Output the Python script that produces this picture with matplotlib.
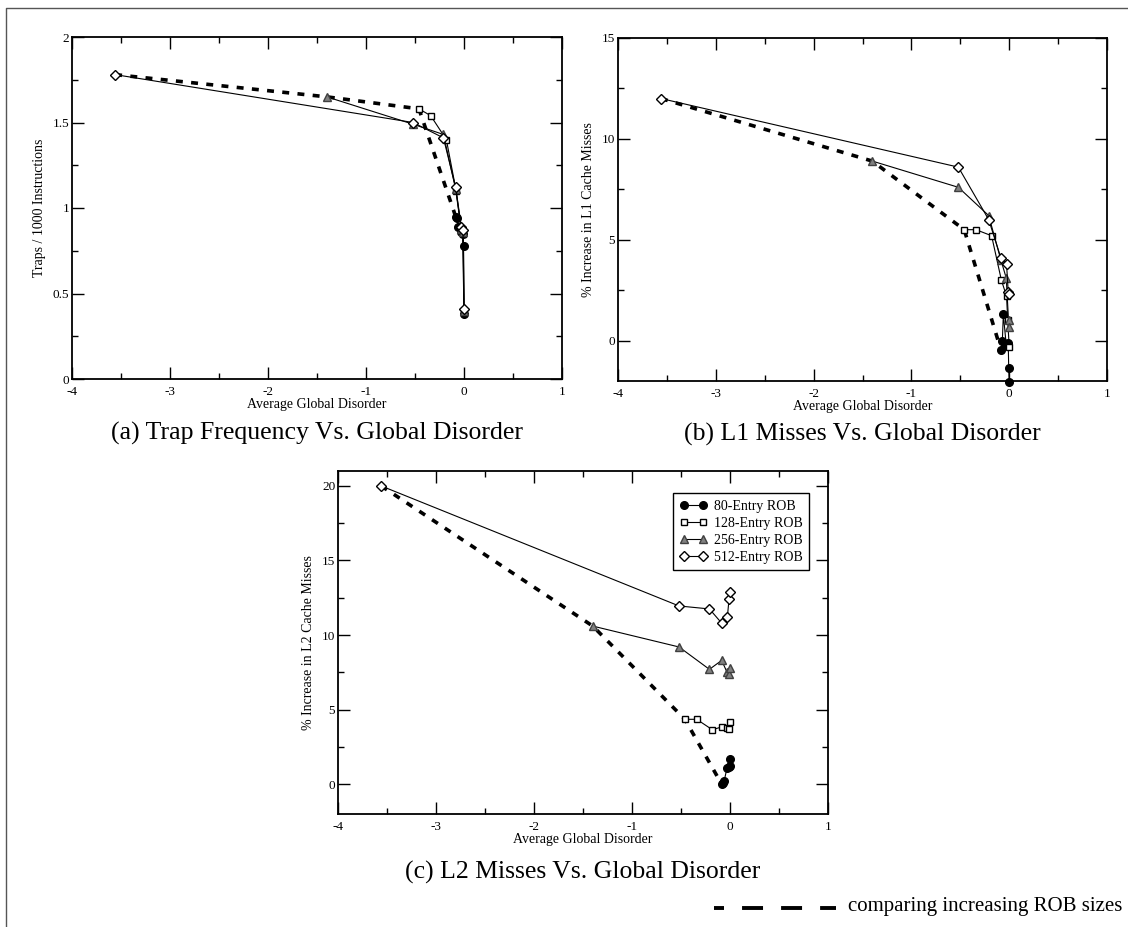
import matplotlib
matplotlib.use("Agg")
import matplotlib.pyplot as plt
from matplotlib.lines import Line2D

plt.rcParams["font.family"] = ["Liberation Serif", "DejaVu Serif"]
plt.rcParams["lines.scale_dashes"] = False

# ======================= DATOS (x compartido entre paneles) =======================
series = ["80-Entry ROB", "128-Entry ROB", "256-Entry ROB", "512-Entry ROB"]

x80 = [-0.085, -0.07, -0.06, -0.03, -0.01, -0.005, 0.0]
x128 = [-0.46, -0.34, -0.18, -0.08, -0.027, -0.015, 0.0]
x256 = [-1.40, -0.52, -0.21, -0.085, -0.03, -0.007, 0.0]
x512 = [-3.56, -0.52, -0.21, -0.085, -0.027, -0.01, 0.0]

# (a) traps / 1000 instrucciones
traps80 = [0.95, 0.94, 0.89, 0.86, 0.85, 0.78, 0.38]
traps128 = [1.58, 1.54, 1.40, 1.10, 0.87, 0.85, 0.40]
traps256 = [1.65, 1.49, 1.43, 1.11, 0.88, 0.86, 0.40]
traps512 = [1.78, 1.50, 1.41, 1.12, 0.89, 0.87, 0.41]

# (b) % incremento fallos L1
l1_80 = [-0.45, 0.0, 1.3, -0.23, -0.1, -1.35, -2.05]
l1_128 = [5.5, 5.5, 5.2, 3.0, 2.2, 1.0, -0.3]
l1_256 = [8.9, 7.6, 6.2, 4.0, 3.1, 1.0, 0.7]
l1_512 = [12.0, 8.6, 6.0, 4.1, 3.8, 2.4, 2.3]

# (c) % incremento fallos L2
l2_80 = [0.0, 0.05, 0.2, 1.1, 1.15, 1.2, 1.7]
l2_128 = [4.35, 4.35, 3.65, 3.85, 3.8, 3.7, 4.2]
l2_256 = [10.6, 9.2, 7.7, 8.3, 7.5, 7.4, 7.8]
l2_512 = [20.0, 11.95, 11.75, 10.8, 11.2, 12.4, 12.9]

xs = [x80, x128, x256, x512]
panels = [
    ([traps80, traps128, traps256, traps512], "Traps / 1000 Instructions",
     (0, 2), [0, 0.5, 1, 1.5, 2], "(a) Trap Frequency Vs. Global Disorder"),
    ([l1_80, l1_128, l1_256, l1_512], "% Increase in L1 Cache Misses",
     (-2, 15), [0, 5, 10, 15], "(b) L1 Misses Vs. Global Disorder"),
    ([l2_80, l2_128, l2_256, l2_512], "% Increase in L2 Cache Misses",
     (-2, 21), [0, 5, 10, 15, 20], "(c) L2 Misses Vs. Global Disorder"),
]

estilos = [
    dict(marker="o", mfc="black", mec="black", markersize=5.5),
    dict(marker="s", mfc="white", mec="black", markersize=5),
    dict(marker="^", mfc="#808080", mec="#404040", markersize=5.5),
    dict(marker="D", mfc="white", mec="black", markersize=4.8),
]

W, H = 1128, 927
fig = plt.figure(figsize=(W / 100, H / 100), dpi=100)


def rect(l, t, r, b):
    return [l / W, 1 - b / H, (r - l) / W, (b - t) / H]


# marco exterior (solo izquierda y arriba)
fig.add_artist(Line2D([6 / W, 6 / W, 1], [0, 1 - 8 / H, 1 - 8 / H],
                      color="#555555", lw=1.0))

cajas = [(72, 37, 562, 379), (618, 38, 1107, 381), (338, 471, 828, 814)]
captions_y = [433, 434, 872]

for (ys, ylabel, ylim, yticks, caption), caja, cy in zip(panels, cajas, captions_y):
    ax = fig.add_axes(rect(*caja))
    for x, y, st in zip(xs, ys, estilos):
        ax.plot(x, y, color="black", lw=0.8, clip_on=False, zorder=3, **st)
    # linea discontinua: primer punto de cada ROB
    xd = [xs[3][0], xs[2][0], xs[1][0], xs[0][0]]
    yd = [ys[3][0], ys[2][0], ys[1][0], ys[0][0]]
    ax.plot(xd, yd, color="black", lw=2.6, dashes=(5, 6), zorder=2)

    ax.set_xlim(-4, 1)
    ax.set_ylim(*ylim)
    ax.set_xticks([-4, -3, -2, -1, 0, 1])
    ax.set_xticks([-3.5, -2.5, -1.5, -0.5, 0.5], minor=True)
    ax.set_xticklabels(["-4", "-3", "-2", "-1", "0", "1"])
    ax.set_yticks(yticks)
    step = yticks[1] - yticks[0]
    menores = [v + step / 2 for v in yticks]
    menores.append(yticks[0] - step / 2)
    ax.set_yticks([m for m in menores if ylim[0] < m < ylim[1]], minor=True)
    ax.set_yticklabels([f"{v:g}" for v in yticks])
    ax.tick_params(which="both", direction="in", top=True, right=True, labelsize=9.5, width=1)
    ax.tick_params(which="major", length=8.5)
    ax.tick_params(which="minor", length=4.5)
    ax.tick_params(axis="x", pad=5)
    ax.tick_params(axis="y", pad=2)
    for s in ax.spines.values():
        s.set_linewidth(1.3)
    ax.set_xlabel("Average Global Disorder", fontsize=10, labelpad=0)
    ax.set_ylabel(ylabel, fontsize=10, labelpad=5)
    cx = (caja[0] + caja[2]) / 2 / W
    fig.text(cx, 1 - cy / H, caption, ha="center", va="center", fontsize=18.5)

    if caption.startswith("(c)"):
        handles = [Line2D([], [], color="black", lw=0.8, **st) for st in estilos]
        leg = ax.legend(handles, series, loc="upper right", bbox_to_anchor=(0.962, 0.935),
                        numpoints=2, fontsize=10, handlelength=2.0, handletextpad=0.5,
                        fancybox=False, edgecolor="black", framealpha=1, borderpad=0.45,
                        labelspacing=0.3, borderaxespad=0)
        leg.get_frame().set_linewidth(1.0)

# leyenda inferior
guion = Line2D([714 / W, 836 / W], [1 - 908 / H, 1 - 908 / H], color="black", lw=2.8)
guion.set_linestyle((7.9, (15.1, 13.0)))
fig.add_artist(guion)
fig.text(848 / W, 1 - 907 / H, "comparing increasing ROB sizes", ha="left", va="center",
         fontsize=15)

fig.savefig("out.png", dpi=100)
